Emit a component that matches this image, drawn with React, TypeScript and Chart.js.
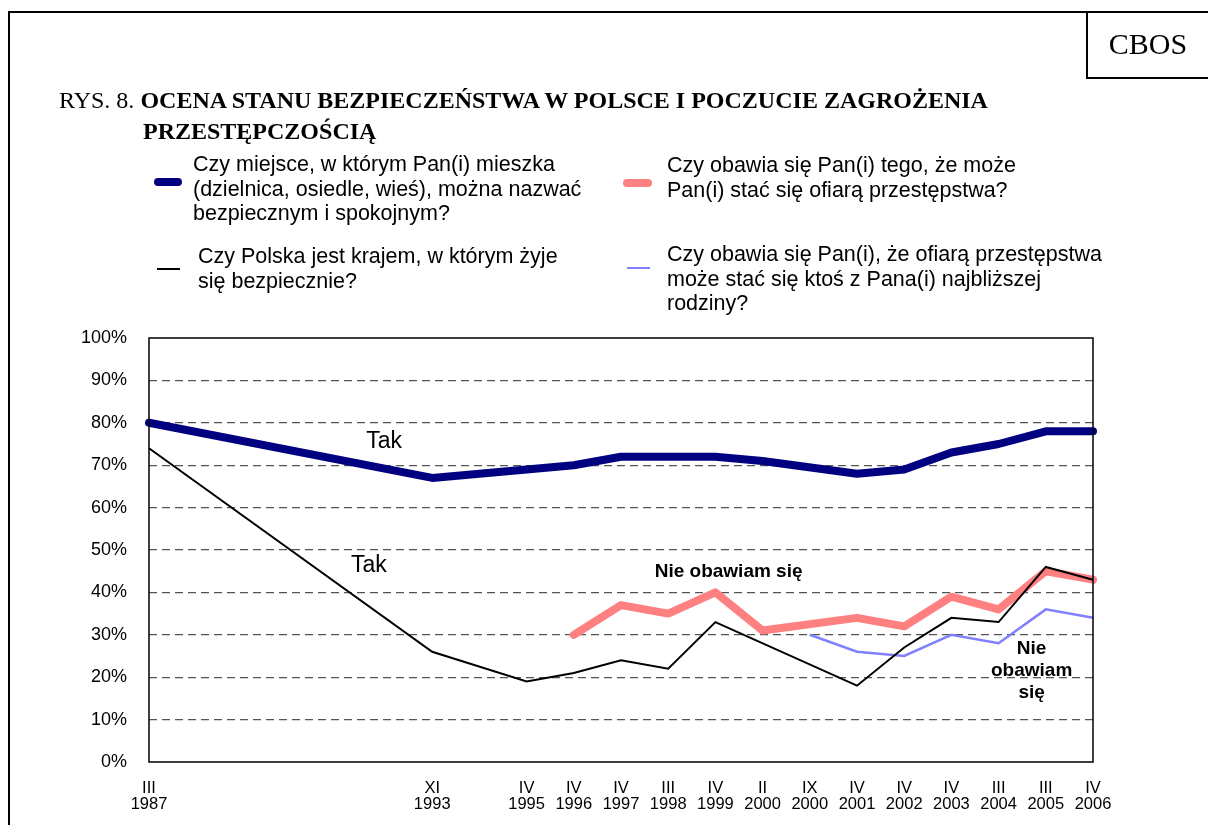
import React, { useEffect, useRef } from 'react';
import { Chart, registerables } from 'chart.js';

Chart.register(...registerables);

// ---- Data ----
const periods = ['III', '', '', '', '', '', 'XI', '', 'IV', 'IV', 'IV', 'III', 'IV', 'II', 'IX', 'IV', 'IV', 'IV', 'III', 'III', 'IV'];
const years = ['1987', '', '', '', '', '', '1993', '', '1995', '1996', '1997', '1998', '1999', '2000', '2000', '2001', '2002', '2003', '2004', '2005', '2006'];

const placeSafe = [80, null, null, null, null, null, 67, null, 69, 70, 72, 72, 72, 71, null, 68, 69, 73, 75, 78, 78];
const countrySafe = [74, null, null, null, null, null, 26, null, 19, 21, 24, 22, 33, null, null, 18, 27, 34, 33, 46, 43];
const notAfraidSelf = [null, null, null, null, null, null, null, null, null, 30, 37, 35, 40, 31, null, 34, 32, 39, 36, 45, 43];
const notAfraidFamily = [null, null, null, null, null, null, null, null, null, null, null, null, null, null, 30, 26, 25, 30, 28, 36, 34];

const seriesNames = [
  'Czy miejsce, w którym Pan(i) mieszka (dzielnica, osiedle, wieś), można nazwać bezpiecznym i spokojnym?',
  'Czy Polska jest krajem, w którym żyje się bezpiecznie?',
  'Czy obawia się Pan(i) tego, że może Pan(i) stać się ofiarą przestępstwa?',
  'Czy obawia się Pan(i), że ofiarą przestępstwa może stać się ktoś z Pana(i) najbliższej rodziny?',
];

const annotationTexts = [['Tak'], ['Tak'], ['Nie obawiam się'], ['Nie', 'obawiam', 'się']];
const annotationAt = [
  { x: 4.98, y: 75.6 },
  { x: 4.66, y: 46.2 },
  { x: 12.28, y: 44.9 },
  { x: 18.7, y: 26.8 },
];

const SANS = '"Liberation Sans", Arial, sans-serif';
const SERIF = '"Liberation Serif", "Times New Roman", serif';

const frameAndNotes = {
  id: 'frameAndNotes',
  afterDatasetsDraw(chart: any) {
    const { ctx, chartArea } = chart;
    ctx.save();
    ctx.strokeStyle = '#000';
    ctx.lineWidth = 1.5;
    ctx.strokeRect(chartArea.left, chartArea.top, chartArea.right - chartArea.left, chartArea.bottom - chartArea.top);
    ctx.restore();
  },
  afterDraw(chart: any) {
    const { ctx, scales } = chart;
    const styles = [
      { font: `23px ${SANS}`, lh: 24 },
      { font: `23px ${SANS}`, lh: 24 },
      { font: `bold 19px ${SANS}`, lh: 22 },
      { font: `bold 19px ${SANS}`, lh: 22 },
    ];
    ctx.save();
    ctx.fillStyle = '#000';
    ctx.textAlign = 'center';
    ctx.textBaseline = 'middle';
    annotationTexts.forEach((lines, i) => {
      const px = scales.x.getPixelForValue(annotationAt[i].x);
      const py = scales.y.getPixelForValue(annotationAt[i].y);
      ctx.font = styles[i].font;
      lines.forEach((t, j) => ctx.fillText(t, px, py + j * styles[i].lh));
    });
    ctx.restore();
  },
};

export default function App() {
  const ref = useRef<HTMLCanvasElement | null>(null);

  useEffect(() => {
    if (!ref.current) return;
    const labels = periods.map((p, i) => (p ? [p, years[i]] : ''));
    const chart = new Chart(ref.current, {
      type: 'line',
      data: {
        labels,
        datasets: [
          {
            label: seriesNames[1],
            data: countrySafe,
            borderColor: '#000000',
            borderWidth: 2,
            pointRadius: 0,
            spanGaps: true,
            tension: 0,
            clip: false as any,
          },
          {
            label: seriesNames[3],
            data: notAfraidFamily,
            borderColor: '#8080FF',
            borderWidth: 2.5,
            pointRadius: 0,
            spanGaps: true,
            tension: 0,
            clip: false as any,
          },
          {
            label: seriesNames[2],
            data: notAfraidSelf,
            borderColor: '#FF8080',
            borderWidth: 8,
            borderCapStyle: 'round',
            borderJoinStyle: 'round',
            pointRadius: 0,
            spanGaps: true,
            tension: 0,
            clip: false as any,
          },
          {
            label: seriesNames[0],
            data: placeSafe,
            borderColor: '#000080',
            borderWidth: 8,
            borderCapStyle: 'round',
            borderJoinStyle: 'round',
            pointRadius: 0,
            spanGaps: true,
            tension: 0,
            clip: false as any,
          },
        ],
      },
      options: {
        responsive: false,
        animation: false,
        devicePixelRatio: 1,
        layout: { padding: { left: 0, top: 338, right: 115, bottom: 0 } },
        plugins: { legend: { display: false }, tooltip: { enabled: false } },
        scales: {
          x: {
            type: 'category',
            offset: false,
            grid: { display: false, drawTicks: false },
            border: { display: false },
            ticks: {
              autoSkip: false,
              maxRotation: 0,
              minRotation: 0,
              padding: 18,
              color: '#000',
              font: { family: SANS, size: 16.5, lineHeight: 1.0 },
            },
            afterFit: (s: any) => {
              s.height = 63;
            },
          },
          y: {
            min: 0,
            max: 100,
            grid: {
              drawTicks: false,
              color: (c: any) => (c.tick && (c.tick.value === 0 || c.tick.value === 100) ? 'rgba(0,0,0,0)' : '#555'),
              lineWidth: 1.3,
            },
            border: { display: false, dash: [8, 5] },
            ticks: {
              stepSize: 10,
              padding: 22,
              color: '#000',
              font: { family: SANS, size: 18 },
              callback: (v: any) => `${v}%`,
            },
            afterFit: (s: any) => {
              s.width = 149;
            },
          },
        },
      },
      plugins: [frameAndNotes],
    });
    return () => chart.destroy();
  }, []);

  const legendText: React.CSSProperties = {
    position: 'absolute',
    fontFamily: SANS,
    fontSize: '21.5px',
    lineHeight: '24.5px',
    color: '#000',
    margin: 0,
  };

  return (
    <div style={{ position: 'absolute', left: 0, top: 0, width: 1208, height: 825, background: '#fff', overflow: 'hidden' }}>
      <canvas ref={ref} width={1208} height={825} style={{ position: 'absolute', left: 0, top: 0, width: 1208, height: 825 }} />
      {/* outer frame */}
      <div style={{ position: 'absolute', left: 8, top: 11, width: 1200, height: 2, background: '#000' }} />
      <div style={{ position: 'absolute', left: 8, top: 11, width: 2, height: 814, background: '#000' }} />
      <div style={{ position: 'absolute', left: 1086, top: 11, width: 2, height: 68, background: '#000' }} />
      <div style={{ position: 'absolute', left: 1086, top: 77, width: 122, height: 2, background: '#000' }} />
      <div style={{ position: 'absolute', left: 1088, top: 24, width: 120, textAlign: 'center', fontFamily: SERIF, fontSize: '30px', lineHeight: '40px' }}>CBOS</div>
      {/* title */}
      <div style={{ position: 'absolute', left: 59, top: 88, fontFamily: SERIF, fontSize: '24px', lineHeight: '24px', whiteSpace: 'nowrap' }}>
        RYS. 8. <b>OCENA STANU BEZPIECZEŃSTWA W POLSCE I POCZUCIE ZAGROŻENIA</b>
      </div>
      <div style={{ position: 'absolute', left: 143, top: 119, fontFamily: SERIF, fontSize: '24px', lineHeight: '24px', whiteSpace: 'nowrap', fontWeight: 'bold' }}>
        PRZESTĘPCZOŚCIĄ
      </div>
      {/* legend */}
      <div style={{ position: 'absolute', left: 154, top: 178, width: 28, height: 8, borderRadius: 4, background: '#000080' }} />
      <div style={{ ...legendText, left: 193, top: 152, width: 400 }}>
        Czy miejsce, w którym Pan(i) mieszka<br />(dzielnica, osiedle, wieś), można nazwać<br />bezpiecznym i spokojnym?
      </div>
      <div style={{ position: 'absolute', left: 157, top: 268, width: 23, height: 2, background: '#000' }} />
      <div style={{ ...legendText, left: 198, top: 244, width: 400 }}>
        Czy Polska jest krajem, w którym żyje<br />się bezpiecznie?
      </div>
      <div style={{ position: 'absolute', left: 623, top: 179, width: 29, height: 8, borderRadius: 4, background: '#FF8080' }} />
      <div style={{ ...legendText, left: 667, top: 153, width: 500 }}>
        Czy obawia się Pan(i) tego, że może<br />Pan(i) stać się ofiarą przestępstwa?
      </div>
      <div style={{ position: 'absolute', left: 627, top: 267, width: 23, height: 2, background: '#8080FF' }} />
      <div style={{ ...legendText, left: 667, top: 242, width: 500 }}>
        Czy obawia się Pan(i), że ofiarą przestępstwa<br />może stać się ktoś z Pana(i) najbliższej<br />rodziny?
      </div>
    </div>
  );
}
